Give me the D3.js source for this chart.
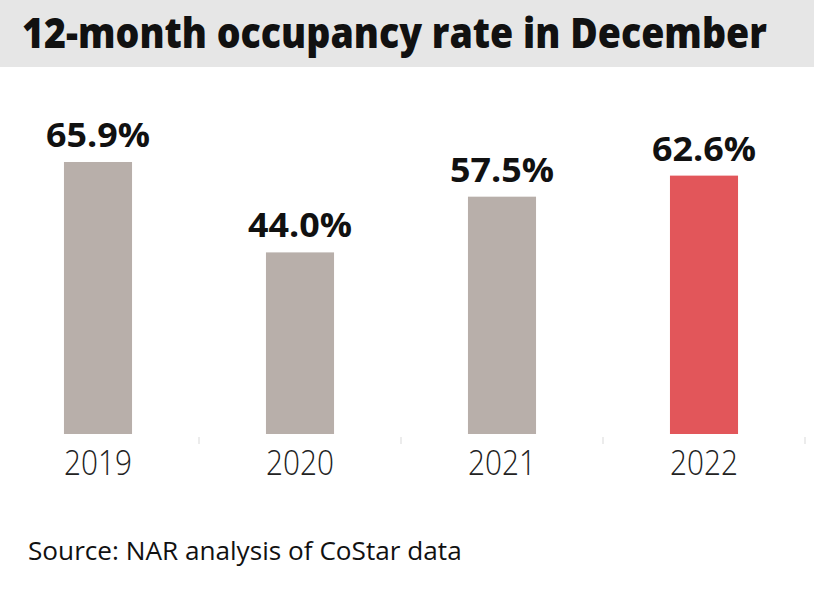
<!DOCTYPE html>
<html><head><meta charset="utf-8">
<script src="https://cdn.jsdelivr.net/npm/d3@7"></script>
<style>html,body{margin:0;padding:0;background:#fff;}svg{display:block;}</style>
</head><body>
<svg id="chart" width="814" height="596"></svg>
<script>
const years = ["2019", "2020", "2021", "2022"];
const values = [65.9, 44.0, 57.5, 62.6];
const valueLabels = ["65.9%", "44.0%", "57.5%", "62.6%"];
const barColors = ["#b8afaa", "#b8afaa", "#b8afaa", "#e2565a"];
const title = "12-month occupancy rate in December";
const source = "Source: NAR analysis of CoStar data";

const svg = d3.select("#chart");
const W = 814, H = 596;
const baseY = 434;

// fit a text horizontally to a target width by scaling its group
function fitText(sel, x0, y0, target, anchor) {
  const g = svg.append("g");
  const t = g.append("text").attr("x", 0).attr("y", 0);
  sel(t);
  const w = t.node().getComputedTextLength();
  const k = target / w;
  let tx = x0;
  if (anchor === "middle") { t.attr("text-anchor", "middle"); }
  g.attr("transform", `translate(${tx},${y0}) scale(${k},1)`);
  return g;
}

svg.append("rect").attr("x",0).attr("y",0).attr("width",W).attr("height",67).attr("fill","#e6e6e6");
fitText(t => t.attr("font-family","'Open Sans', sans-serif").attr("font-weight",800).attr("font-size",42)
  .attr("fill","#111").text(title), 22, 48, 745);

const x = d3.scaleBand().domain(years).range([-3, 805]).paddingInner(0.663).paddingOuter(0.3315);
const y = d3.scaleLinear().domain([0, 65.9]).range([baseY, 162]);

const data = years.map((yr,i)=>({yr, v:values[i], lab:valueLabels[i], c:barColors[i]}));

// faint ticks at band boundaries
const step = x.step();
svg.selectAll("line.tick").data(years).enter().append("line")
  .attr("x1", d => x(d) + x.bandwidth()/2 + step/2)
  .attr("x2", d => x(d) + x.bandwidth()/2 + step/2)
  .attr("y1", 437).attr("y2", 444)
  .attr("stroke","#e6e6e6").attr("stroke-width",1.5);

svg.selectAll("rect.bar").data(data).enter().append("rect")
  .attr("x", d => x(d.yr)).attr("width", x.bandwidth())
  .attr("y", d => y(d.v)).attr("height", d => baseY - y(d.v))
  .attr("fill", d => d.c);

data.forEach(d => {
  fitText(t => t.attr("font-family","'Open Sans', sans-serif").attr("font-weight",700).attr("font-size",34)
    .attr("fill","#111").text(d.lab), x(d.yr) + x.bandwidth()/2, y(d.v) - 15, 104, "middle");
  fitText(t => t.attr("font-family","'Open Sans', sans-serif").attr("font-weight",300).attr("font-size",35)
    .attr("fill","#222").text(d.yr), x(d.yr) + x.bandwidth()/2, 475, 68, "middle");
});

fitText(t => t.attr("font-family","'Open Sans', sans-serif").attr("font-weight",400).attr("font-size",25)
  .attr("fill","#111").text(source), 28, 560, 434);
</script>
</body></html>
